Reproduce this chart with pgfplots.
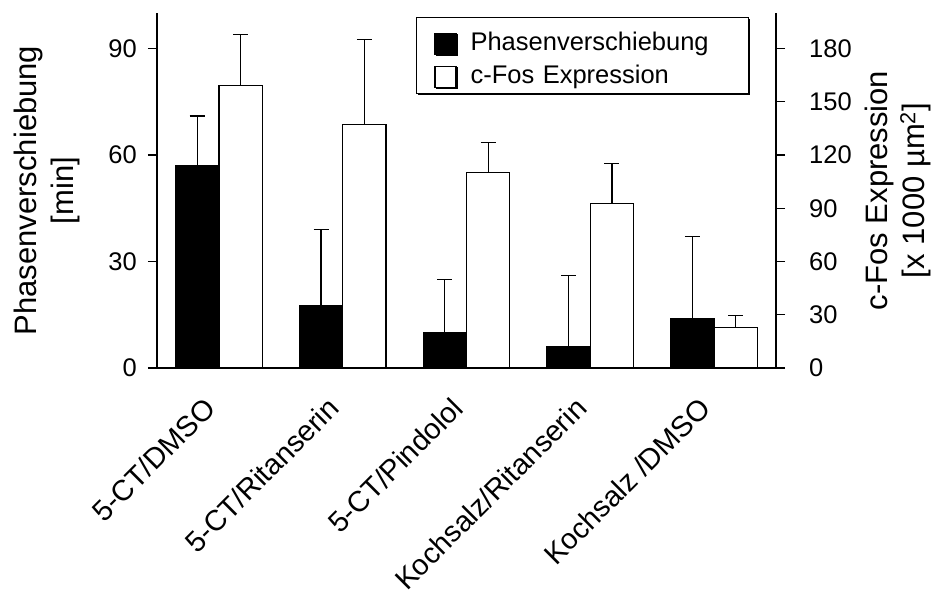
\documentclass[border=0pt]{standalone}
\usepackage{fontspec}
\setmainfont{Liberation Sans}
\usepackage{pgfplots}
\pgfplotsset{compat=1.18}
\usetikzlibrary{shadows}

\pgfplotsset{
  common/.style={
    scale only axis, width=619bp, height=355bp,
    at={(0,0)}, anchor=south west,
    xmin=-0.5, xmax=4.5,
    axis line style={line width=1.2bp, black},
    tick align=outside, major tick length=9bp,
    ytick style={line width=1.2bp, black},
    yticklabel style={font=\fontsize{25.5bp}{30bp}\selectfont, inner sep=0pt},
    /pgf/number format/assume math mode=true,
    ylabel style={align=center, font=\fontsize{31bp}{37bp}\selectfont},
  },
  sqlegend/.style={legend image code/.code={\draw[line width=1.2bp,##1] (0bp,-3.5bp) rectangle (21bp,17.5bp);}},
  errstyle/.style={draw=none, forget plot,
    error bars/y dir=plus, error bars/y explicit,
    error bars/error bar style={draw=black, line width=1.2bp, solid},
    error bars/error mark options={rotate=90, draw=black, line width=1.2bp, mark size=7.5bp}},
}

\begin{document}
\begin{tikzpicture}
\path[use as bounding box] (-157bp,-225bp) rectangle (780bp,368bp);

\begin{axis}[common,
  ymin=0, ymax=100,
  axis x line*=bottom, axis y line*=left,
  xtick={0,1,2,3,4},
  xticklabels={5-CT/DMSO, 5-CT/Ritanserin, 5-CT/Pindolol, Kochsalz/Ritanserin, Kochsalz /DMSO},
  xtick style={draw=none},
  xticklabel style={font=\fontsize{29bp}{34bp}\selectfont, inner sep=0pt, shift={(-9bp,-26bp)}, rotate=45, anchor=east},
  ytick={0,30,60,90},
  yticklabel style={xshift=-11bp},
  ylabel={Phasenverschiebung\\{[min]}},
  ylabel style={at={(axis description cs:-0.178,0.5)}, anchor=center},
]
% Phasenverschiebung (left axis)
\addplot[ybar, bar width=0.35, bar shift=-0.175, fill=black, draw=black, line width=1.2bp]
coordinates {(0,57) (1,17.5) (2,10) (3,6) (4,14)};
\addplot[errstyle]
coordinates {
  (-0.175,57) +- (0,14)
  (0.825,17.5) +- (0,21.5)
  (1.825,10) +- (0,15)
  (2.825,6) +- (0,20)
  (3.825,14) +- (0,23)
};
\end{axis}

\begin{axis}[common,
  ymin=0, ymax=200,
  axis x line=none, axis y line*=right,
  ytick={0,30,60,90,120,150,180},
  yticklabel style={xshift=24bp},
  ylabel={c-Fos Expression\\{[x 1000 µm\textsuperscript{2}]}},
  ylabel style={at={(axis description cs:1.197,0.5)}, anchor=center},
  legend style={at={(axis description cs:0.418,0.99)}, anchor=north west,
    draw=black, line width=1.2bp, fill=white,
    drop shadow={shadow xshift=1.5bp, shadow yshift=-1.5bp, fill=black, opacity=1},
    inner xsep=18bp, inner ysep=2.5bp, row sep=2bp, column sep=12bp,
    font=\fontsize{25.5bp}{30bp}\selectfont,
    nodes={inner sep=2bp, text height=22bp, text depth=5bp, text width=258bp, align=left, anchor=base west}},
  legend cell align=left,
]
\addlegendimage{sqlegend, fill=black, draw=black}
\addlegendentry[text height=29bp, anchor=base west]{Phasenverschiebung}
% c-Fos Expression (right axis)
\addplot[ybar, bar width=0.35, bar shift=0.175, fill=white, draw=black, line width=1.2bp, sqlegend]
coordinates {(0,159) (1,137) (2,110) (3,92.5) (4,23)};
\addlegendentry[anchor=base west]{c-Fos Expression}
\addplot[errstyle]
coordinates {
  (0.175,159) +- (0,29)
  (1.175,137) +- (0,48)
  (2.175,110) +- (0,17)
  (3.175,92.5) +- (0,22.5)
  (4.175,23) +- (0,6.5)
};
\end{axis}
\end{tikzpicture}
\end{document}
